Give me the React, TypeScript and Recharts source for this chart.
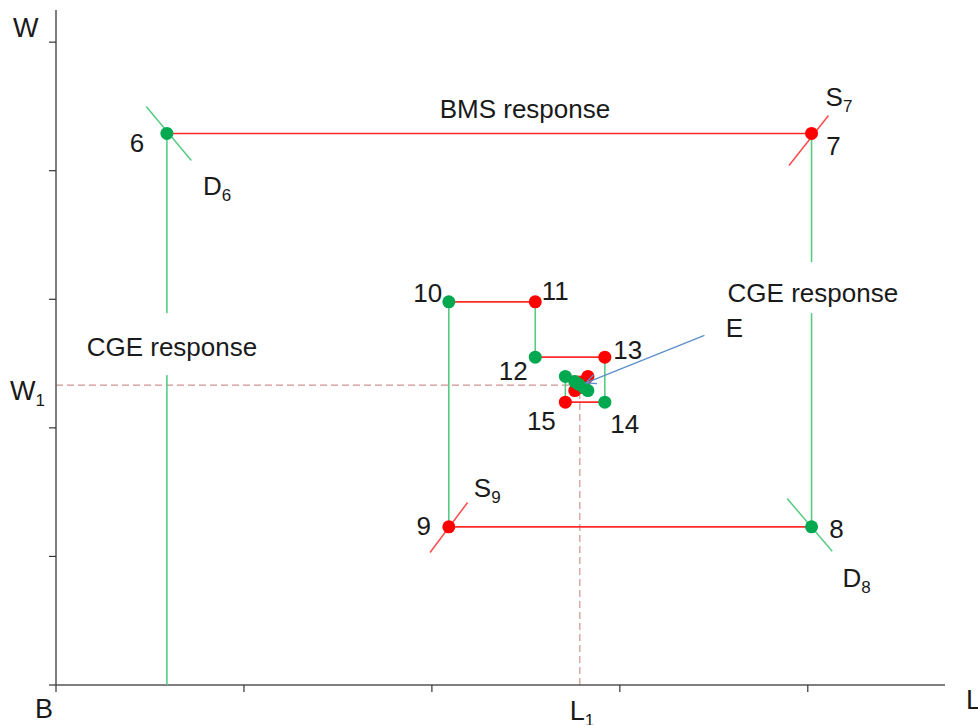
import { ScatterChart, Scatter, XAxis, YAxis, ReferenceLine, ReferenceDot } from "recharts"

const FONT = '"Liberation Sans", Arial, sans-serif'
const INK = "#1a1a1a"
const RED = "#ff0000"
const GREEN_DOT = "#00a94f"
const RED_LINE = "#ff2a2a"
const GREEN_LINE = "#55cc82"

// axis extents (L on x, W on y)
const X_MAX = 4.73
const Y_MAX = 5.25
const xTicks = [0, 1, 2, 3, 4]
const yTicks = [0, 1, 2, 3, 4, 5]

// equilibrium
const L1 = 2.787
const W1 = 2.333

// cobweb path, points 6 .. 24
const pathIds = [6, 7, 8, 9, 10, 11, 12, 13, 14, 15, 16, 17, 18, 19, 20, 21, 22, 23, 24]
const pathX = [0.59, 4.02, 4.02, 2.09, 2.09, 2.55, 2.55, 2.92, 2.92, 2.71, 2.71, 2.83, 2.83, 2.76, 2.76, 2.81, 2.81, 2.78, 2.78]
const pathY = [4.29, 4.29, 1.23, 1.23, 2.98, 2.98, 2.55, 2.55, 2.2, 2.2, 2.4, 2.4, 2.29, 2.29, 2.36, 2.36, 2.31, 2.31, 2.34]

// short demand / supply pieces through the corner points
const d6 = [{ x: 0.48, y: 4.5 }, { x: 0.72, y: 4.08 }]
const s7 = [{ x: 3.9, y: 4.04 }, { x: 4.11, y: 4.43 }]
const s9 = [{ x: 1.99, y: 1.03 }, { x: 2.19, y: 1.42 }]
const d8 = [{ x: 3.89, y: 1.45 }, { x: 4.13, y: 1.04 }]
const eArrow = [{ x: 3.45, y: 2.72 }, { x: 2.82, y: 2.35 }]

// labels on the numbered points
const numberedLabels = [6, 7, 8, 9, 10, 11, 12, 13, 14, 15]
const curveLabels = [
  { at: 6, main: "D", sub: "6" },
  { at: 7, main: "S", sub: "7" },
  { at: 9, main: "S", sub: "9" },
  { at: 8, main: "D", sub: "8" },
]

const points = pathIds.map((id, i) => ({ id, x: pathX[i], y: pathY[i] }))
const greenPts = points.filter((p) => p.id % 2 === 0)
const redPts = points.filter((p) => p.id % 2 === 1)

const segments = points.slice(0, -1).map((p, i) => ({
  data: [p, points[i + 1]],
  color: p.y === points[i + 1].y ? RED_LINE : GREEN_LINE,
}))
segments.push({ data: [points[0], { ...points[0], y: 0 }], color: GREEN_LINE })

// pixel nudges for the text, kept apart from the data
const numberOffset: Record<number, [number, number]> = {
  6: [-30, 19], 7: [22, 22], 8: [25, 11], 9: [-25, 8], 10: [-21, 0],
  11: [20, -2], 12: [-22, 23], 13: [23, 2], 14: [20, 31], 15: [-24, 28],
}
const curveOffset: Record<string, [number, number]> = {
  D6: [36, 62], S7: [14, -27], S9: [25, -30], D8: [31, 60],
}

const none = () => <g />

const dot = (fill: string) => (props: any) => <circle cx={props.cx} cy={props.cy} r={6.5} fill={fill} />

const arrowLine = (props: any) => {
  const pts = props.points
  if (!pts || pts.length < 2) return <g />
  const a = pts[0]
  const b = pts[1]
  const ang = Math.atan2(b.y - a.y, b.x - a.x)
  const len = 11
  const h1 = { x: b.x - len * Math.cos(ang - 0.45), y: b.y - len * Math.sin(ang - 0.45) }
  const h2 = { x: b.x - len * Math.cos(ang + 0.45), y: b.y - len * Math.sin(ang + 0.45) }
  return (
    <g stroke="#5b8fc9" strokeWidth={1.3} fill="none">
      <line x1={a.x} y1={a.y} x2={b.x} y2={b.y} />
      <polyline points={`${h1.x},${h1.y} ${b.x},${b.y} ${h2.x},${h2.y}`} />
    </g>
  )
}

const text = (main: string, sub?: string, dx = 0, dy = 0, anchor = "start", size = 26, box?: [number, number, number]) =>
  (props: any) => (
    <g>
      {box && (
        <rect x={props.cx + dx - box[0] / 2} y={props.cy + dy + box[1]} width={box[0]} height={box[2]} fill="#fff" />
      )}
      <text x={props.cx + dx} y={props.cy + dy} fontSize={size} fontFamily={FONT} fill={INK} textAnchor={anchor}>
        {main}
        {sub && (
          <tspan fontSize={17} dy={6}>
            {sub}
          </tspan>
        )}
      </text>
    </g>
  )

export default function App() {
  return (
    <div style={{ position: "absolute", left: 0, top: 0, background: "#fff" }}>
      <ScatterChart width={978} height={725} margin={{ top: 10, right: 33, bottom: 10, left: 26 }}>
        <XAxis
          type="number"
          dataKey="x"
          domain={[0, X_MAX]}
          ticks={xTicks}
          tickFormatter={() => ""}
          tickSize={7}
          height={30}
          axisLine={{ stroke: "#555", strokeWidth: 1.5 }}
          tickLine={{ stroke: "#333", strokeWidth: 1.2 }}
        />
        <YAxis
          type="number"
          dataKey="y"
          domain={[0, Y_MAX]}
          ticks={yTicks}
          tickFormatter={() => ""}
          tickSize={7}
          width={30}
          axisLine={{ stroke: "#555", strokeWidth: 1.5 }}
          tickLine={{ stroke: "#333", strokeWidth: 1.2 }}
        />

        <ReferenceLine
          segment={[{ x: 0, y: W1 }, { x: L1, y: W1 }]}
          stroke="#cf9494"
          strokeWidth={1.2}
          strokeDasharray="7 4"
        />
        <ReferenceLine
          segment={[{ x: L1, y: 0 }, { x: L1, y: W1 }]}
          stroke="#cf9494"
          strokeWidth={1.2}
          strokeDasharray="7 4"
        />

        {segments.map((s, i) => (
          <Scatter
            key={`seg${i}`}
            data={s.data}
            line={{ stroke: s.color, strokeWidth: 1.6 }}
            shape={none}
            isAnimationActive={false}
          />
        ))}
        <Scatter data={d6} line={{ stroke: GREEN_LINE, strokeWidth: 1.5 }} shape={none} isAnimationActive={false} />
        <Scatter data={d8} line={{ stroke: GREEN_LINE, strokeWidth: 1.5 }} shape={none} isAnimationActive={false} />
        <Scatter data={s7} line={{ stroke: "#ff4a4a", strokeWidth: 1.5 }} shape={none} isAnimationActive={false} />
        <Scatter data={s9} line={{ stroke: "#ff4a4a", strokeWidth: 1.5 }} shape={none} isAnimationActive={false} />

        <Scatter data={redPts} shape={dot(RED)} isAnimationActive={false} />
        <Scatter data={greenPts} shape={dot(GREEN_DOT)} isAnimationActive={false} />

        <Scatter data={eArrow} line={arrowLine} shape={none} isAnimationActive={false} />

        {numberedLabels.map((id) => {
          const p = points.find((q) => q.id === id)!
          const [dx, dy] = numberOffset[id]
          return (
            <ReferenceDot
              key={`n${id}`}
              x={p.x}
              y={p.y}
              r={0}
              ifOverflow="visible"
              shape={text(String(id), undefined, dx, dy, "middle")}
            />
          )
        })}
        {curveLabels.map((c) => {
          const p = points.find((q) => q.id === c.at)!
          const [dx, dy] = curveOffset[c.main + c.sub]
          return (
            <ReferenceDot
              key={`c${c.main}${c.sub}`}
              x={p.x}
              y={p.y}
              r={0}
              ifOverflow="visible"
              shape={text(c.main, c.sub, dx, dy)}
            />
          )
        })}

        <ReferenceDot x={2.495} y={4.409} r={0} ifOverflow="visible" shape={text("BMS response", undefined, 0, 0, "middle")} />
        <ReferenceDot
          x={0.617}
          y={2.558}
          r={0}
          ifOverflow="visible"
          shape={text("CGE response", undefined, 0, 0, "middle", 26, [190, -43, 62])}
        />
        <ReferenceDot
          x={4.027}
          y={2.978}
          r={0}
          ifOverflow="visible"
          shape={text("CGE response", undefined, 0, 0, "middle", 26, [190, -40, 51])}
        />
        <ReferenceDot x={3.564} y={2.706} r={0} ifOverflow="visible" shape={text("E")} />

        <ReferenceDot x={0} y={Y_MAX} r={0} ifOverflow="visible" shape={text("W", undefined, -43, 27, "start", 27)} />
        <ReferenceDot x={0} y={W1} r={0} ifOverflow="visible" shape={text("W", "1", -46, 15, "start", 27)} />
        <ReferenceDot x={0} y={0} r={0} ifOverflow="visible" shape={text("B", undefined, -21, 33, "start", 27)} />
        <ReferenceDot x={L1} y={0} r={0} ifOverflow="visible" shape={text("L", "1", -10, 35, "start", 27)} />
        <ReferenceDot x={X_MAX} y={0} r={0} ifOverflow="visible" shape={text("L", undefined, 21, 24, "start", 27)} />
      </ScatterChart>
    </div>
  )
}
